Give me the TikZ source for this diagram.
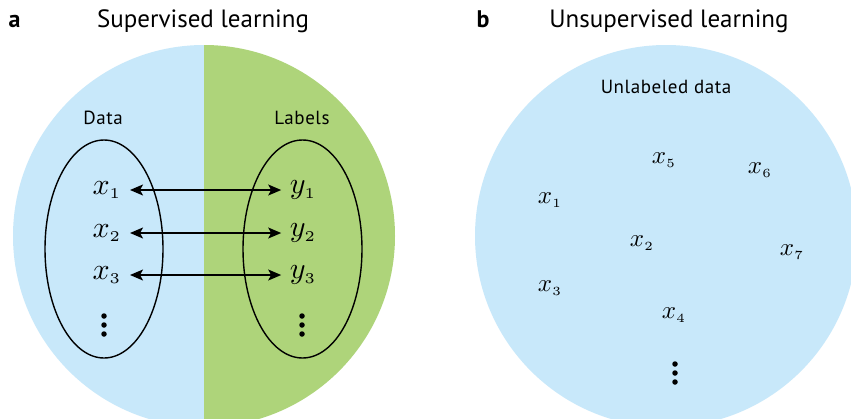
\documentclass[tikz,border=0pt]{standalone}
\usepackage{fontspec}
\setmainfont{PT Sans}
\newfontfamily\spacedsans[LetterSpace=3]{PT Sans}
\usetikzlibrary{arrows.meta}
\definecolor{skyfill}{HTML}{C8E8FA}
\definecolor{leaffill}{HTML}{AED47A}
\tikzset{
  title/.style={anchor=base, font=\fontsize{25}{29}\selectfont},
  panel/.style={anchor=base west, font=\fontsize{24}{28}\selectfont\bfseries},
  setname/.style={anchor=base, font=\fontsize{19}{22}\selectfont\spacedsans},
  var/.style={inner sep=0pt, font=\fontsize{10}{12}\selectfont, scale=3},
  pt/.style={inner sep=0pt, font=\fontsize{10}{12}\selectfont, scale=2.5},
  setring/.style={draw=black, line width=1.4pt},
  link/.style={line width=1.4pt, {Stealth[length=13pt,width=11pt,inset=3pt]}-{Stealth[length=13pt,width=11pt,inset=3pt]}},
  dot/.style={circle, fill=black, inner sep=0pt, minimum size=5.5pt}
}
\newcommand{\sv}[2]{$#1_{\scriptscriptstyle #2}$}
\begin{document}
\begin{tikzpicture}[x=1pt,y=-1pt]
\useasboundingbox (0,0) rectangle (851,418);
\fill[white] (0,0) rectangle (851,418);
% backgrounds, cropped at the page edge
\begin{scope}
  \clip (0,0) rectangle (851,418);
  \begin{scope}
    \clip (204,236) circle (191);
    \fill[skyfill] (0,0) rectangle (204,430);
    \fill[leaffill] (204,0) rectangle (400,430);
  \end{scope}
  \fill[skyfill] (666,236) circle (191);
\end{scope}

% headings
\node[panel] (pa) at (5,27) {a};
\node[title] (ta) at (203,27) {Supervised learning};
\node[panel] (pb) at (473,27) {b};
\node[title] (tb) at (669,27) {Unsupervised learning};

% supervised panel
\node[setname] (data) at (103,124) {Data};
\node[setname] (labels) at (302,124) {Labels};
\draw[setring] (104,249) ellipse (59 and 109);
\draw[setring] (302.5,249) ellipse (59.5 and 109);

\node[var] (x1) at (107,190) {\sv{x}{1}};
\node[var] (x2) at (107,233) {\sv{x}{2}};
\node[var] (x3) at (107,275) {\sv{x}{3}};
\node[var] (y1) at (303,190) {\sv{y}{1}};
\node[var] (y2) at (303,233) {\sv{y}{2}};
\node[var] (y3) at (303,275) {\sv{y}{3}};

\draw[link] ([xshift=8pt]x1.east|-x1.center) -- ([xshift=-8pt]y1.west|-x1.center);
\draw[link] ([xshift=8pt]x2.east|-x2.center) -- ([xshift=-8pt]y2.west|-x2.center);
\draw[link] ([xshift=8pt]x3.east|-x3.center) -- ([xshift=-8pt]y3.west|-x3.center);

\node[dot] (xd1) at (104,316) {};
\node[dot] (xd2) at (104,325) {};
\node[dot] (xd3) at (104,334) {};
\node[dot] (yd1) at (302,316) {};
\node[dot] (yd2) at (302,325) {};
\node[dot] (yd3) at (302,334) {};

% unsupervised panel
\node[setname] (unl) at (666,93) {Unlabeled data};
\node[pt] (u1) at (550,200) {\sv{x}{1}};
\node[pt] (u2) at (642,243) {\sv{x}{2}};
\node[pt] (u3) at (550,288) {\sv{x}{3}};
\node[pt] (u4) at (674,315) {\sv{x}{4}};
\node[pt] (u5) at (664,160) {\sv{x}{5}};
\node[pt] (u6) at (760,170) {\sv{x}{6}};
\node[pt] (u7) at (792,252) {\sv{x}{7}};
\node[dot] (ud1) at (675,364) {};
\node[dot] (ud2) at (675,373) {};
\node[dot] (ud3) at (675,382) {};
\end{tikzpicture}
\end{document}
